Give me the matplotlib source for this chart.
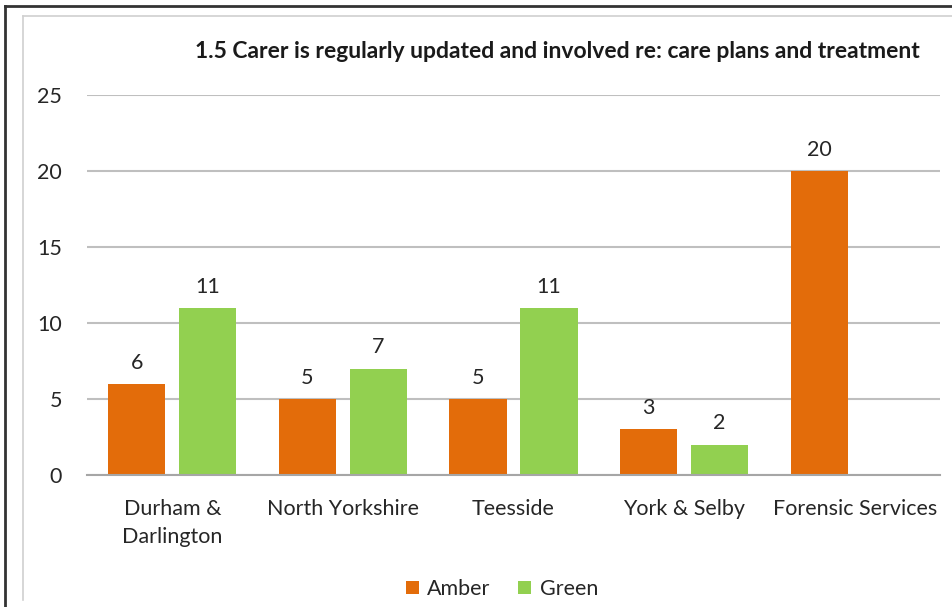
import matplotlib

matplotlib.use("Agg")

import matplotlib.pyplot as plt
import numpy as np
from matplotlib.lines import Line2D

plt.rcParams["font.family"] = ["Lato", "DejaVu Sans"]

TITLE = "1.5 Carer is regularly updated and involved re: care plans and treatment"
categories = ["Durham &\nDarlington", "North Yorkshire", "Teesside", "York & Selby", "Forensic Services"]
amber = [6, 5, 5, 3, 20]
green = [11, 7, 11, 2, np.nan]
yticks = [0, 5, 10, 15, 20, 25]

AMBER_COL = "#E36C0A"
GREEN_COL = "#92D050"
TEXT_COL = "#262626"

fig = plt.figure(figsize=(9.53, 6.07), dpi=100)
ax = fig.add_axes([87 / 953, 1 - 475 / 607, 853 / 953, 380 / 607])

x = np.arange(len(categories))
width = 0.335
off = 0.208
b1 = ax.bar(x - off, amber, width, color=AMBER_COL, label="Amber", zorder=3)
b2 = ax.bar(x + off, green, width, color=GREEN_COL, label="Green", zorder=3)

ax.bar_label(b1, labels=[f"{v:g}" for v in amber], padding=8, fontsize=15.5, color=TEXT_COL)
ax.bar_label(b2, labels=["" if np.isnan(v) else f"{v:g}" for v in green],
             padding=8, fontsize=15.5, color=TEXT_COL)

ax.set_xlim(-0.5, len(categories) - 0.5)
ax.set_ylim(0, 25)
ax.set_yticks(yticks)
ax.set_xticks(x)
ax.set_xticklabels(categories, linespacing=1.5)
ax.tick_params(axis="y", length=0, pad=18, labelsize=15.5, labelcolor=TEXT_COL)
ax.tick_params(axis="x", length=0, pad=17, labelsize=15.5, labelcolor=TEXT_COL)
ax.yaxis.grid(True, color="#BFBFBF", linewidth=1.5, zorder=0)
for s in ["top", "right", "left"]:
    ax.spines[s].set_visible(False)
ax.spines["bottom"].set_color("#A6A6A6")
ax.spines["bottom"].set_linewidth(1.5)
ax.spines["bottom"].set_zorder(4)

fig.text(557 / 953, 1 - 52 / 607, TITLE, ha="center", va="center",
         fontsize=16.5, fontweight="bold", color="#1a1a1a")

fig.legend(handles=[b1, b2], labels=["Amber", "Green"], loc="center",
           bbox_to_anchor=(502 / 953, 1 - 589 / 607), ncol=2, frameon=False,
           fontsize=15.5, handlelength=0.6, handleheight=0.6, handletextpad=0.4,
           columnspacing=1.3, labelcolor=TEXT_COL)

# frame lines around the chart
W, H = 953, 607
fig.add_artist(Line2D([5 / W, 1], [1 - 6 / H, 1 - 6 / H], color="#333333", linewidth=2))
fig.add_artist(Line2D([5 / W, 5 / W], [0, 1 - 6 / H], color="#333333", linewidth=2))
fig.add_artist(Line2D([23 / W, 1], [1 - 16 / H, 1 - 16 / H], color="#D0D0D0", linewidth=1.2))
fig.add_artist(Line2D([23 / W, 23 / W], [1 - 600 / H, 1 - 16 / H], color="#D0D0D0", linewidth=1.2))

fig.savefig("out.png", dpi=100)
